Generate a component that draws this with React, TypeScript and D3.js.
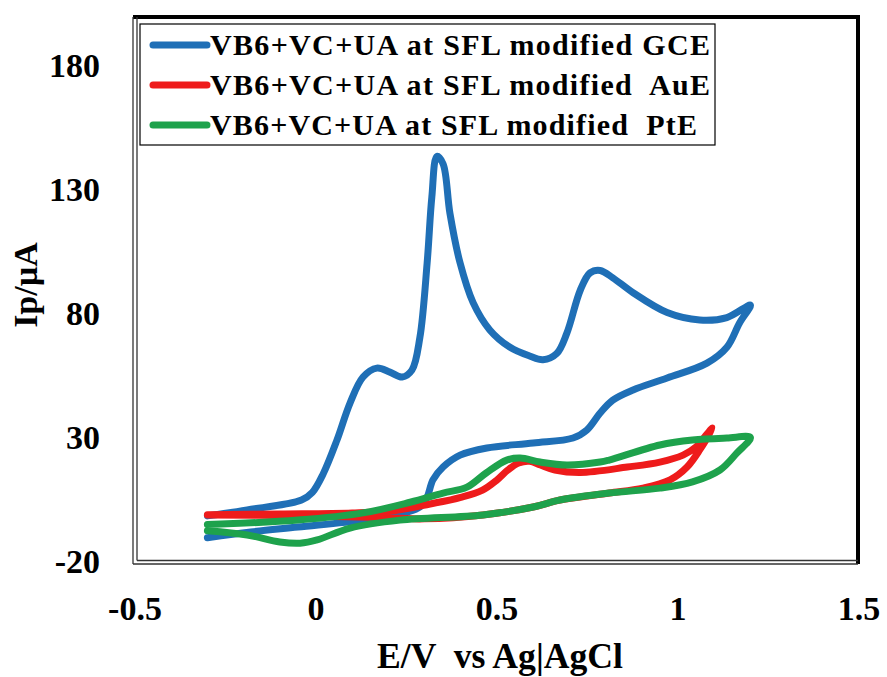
import React from "react";
import * as d3 from "d3";

// ---- Data ----
const seriesNames = [
  "VB6+VC+UA at SFL modified GCE",
  "VB6+VC+UA at SFL modified  AuE",
  "VB6+VC+UA at SFL modified  PtE",
];
const seriesColors = ["#1f6fb6", "#ee1b1b", "#1ea24c"];

// GCE: forward scan then reverse scan
const gceE = [
  -0.30, -0.19, -0.04, -0.01, 0.02, 0.058, 0.094, 0.13, 0.168, 0.204, 0.238, 0.265, 0.287, 0.307, 0.32, 0.334,
  0.351, 0.37, 0.398, 0.434, 0.48, 0.536, 0.59, 0.627, 0.665, 0.693, 0.73, 0.757, 0.785, 0.82, 0.876, 0.97,
  1.06, 1.135, 1.2,
  1.17, 1.135, 1.08, 0.97, 0.876, 0.82, 0.785, 0.748, 0.71, 0.6, 0.472, 0.398, 0.351, 0.323, 0.307, 0.287,
  0.25, 0.13, -0.05, -0.18, -0.30,
];
const gceI = [
  -1, 1.4, 5.4, 8.5, 16, 29.6, 44.5, 55, 58.6, 57, 55, 57.8, 71, 101, 127.6, 144,
  141, 121, 101, 85, 74, 67, 63.5, 62, 64.5, 72.7, 90, 97, 98, 95, 89, 81,
  78, 79, 84,
  76.8, 67, 60.6, 54.6, 49.8, 45.7, 40.5, 33.6, 30.4, 28.4, 26.4, 23.5, 18.7, 13.5, 6.6, 2.6,
  0.5, -2.7, -5.5, -7.5, -9.8,
];

// AuE
const aueE = [
  -0.30, -0.1, 0.1, 0.22, 0.315, 0.4, 0.46, 0.5, 0.53, 0.56, 0.59, 0.62, 0.66, 0.73, 0.86, 0.95, 1.014, 1.05,
  1.08, 1.095,
  1.06, 1.025, 0.978, 0.903, 0.81, 0.674, 0.6, 0.461, 0.3, 0.15, -0.05, -0.30,
];
const aueI = [
  -0.5, -0.2, 0.2, 1.2, 3.8, 6.5, 9.4, 13.5, 17.5, 20.3, 21, 19.5, 17.5, 16.5, 18.7, 20.7, 23.5, 26.8,
  32, 34.4,
  25.6, 18.7, 13.5, 10.2, 8.2, 5.4, 2.6, -0.6, -2.2, -1.6, -0.9, -0.6,
];

// PtE
const pteE = [
  -0.30, -0.05, 0.13, 0.26, 0.351, 0.417, 0.47, 0.527, 0.564, 0.619, 0.693, 0.785, 0.81, 0.95, 1.04, 1.135, 1.2,
  1.163, 1.116, 1.04, 0.95, 0.81, 0.674, 0.6, 0.461, 0.232, 0.094, 0.003, -0.044, -0.1, -0.19, -0.30,
];
const pteI = [
  -4.5, -2.7, 0.2, 4.5, 8.2, 10.6, 16.3, 21.5, 22.3, 20.7, 19.5, 20.7, 21.5, 27.6, 29.6, 30.4, 30.6,
  24.4, 17.5, 12.7, 10.2, 8.2, 5.4, 2.6, -0.6, -2.7, -5.9, -10.7, -12, -11.5, -8.7, -7,
];

const xTicks = [-0.5, 0, 0.5, 1, 1.5];
const yTicks = [-20, 30, 80, 130, 180];
const xTitle = "E/V  vs Ag|AgCl";
const yTitle = "Ip/\u00b5A";

const W = 887;
const H = 677;
const FONT = "'Liberation Serif', 'Times New Roman', serif";

export default function App() {
  const x = d3.scaleLinear().domain([-0.5, 1.5]).range([135, 859]);
  const y = d3.scaleLinear().domain([-20, 200]).range([563, 17.5]);

  const line = d3
    .line<[number, number]>()
    .x((d) => x(d[0]))
    .y((d) => y(d[1]))
    .curve(d3.curveCatmullRom.alpha(0.5));

  const series = [
    { E: gceE, I: gceI },
    { E: aueE, I: aueI },
    { E: pteE, I: pteI },
  ];

  const left = 135,
    right = 858,
    top = 17,
    bottom = 562;

  const legendRows = [45, 85, 125];
  const legendLens = [500, 500, 487];

  return (
    <svg
      width={W}
      height={H}
      viewBox={`0 0 ${W} ${H}`}
      style={{ position: "absolute", left: 0, top: 0, background: "#fff" }}
    >
      <rect x={0} y={0} width={W} height={H} fill="#fff" />

      {/* curves */}
      {series.map((s, i) => (
        <path
          key={i}
          d={line(s.E.map((e, k) => [e, s.I[k]] as [number, number])) || ""}
          fill="none"
          stroke={seriesColors[i]}
          strokeWidth={7}
          strokeLinecap="round"
          strokeLinejoin="round"
        />
      ))}

      {/* frame */}
      <line x1={left - 2} y1={top} x2={right + 2} y2={top} stroke="#000" strokeWidth={4} />
      <line x1={right} y1={top - 2} x2={right} y2={bottom + 2} stroke="#000" strokeWidth={4} />
      <line x1={left - 2} y1={top} x2={left - 2} y2={bottom + 2} stroke="#333" strokeWidth={1.3} />
      <line x1={left + 2} y1={top} x2={left + 2} y2={bottom - 1.5} stroke="#333" strokeWidth={1.3} />
      <line x1={left - 2} y1={bottom + 2} x2={right} y2={bottom + 2} stroke="#333" strokeWidth={1.3} />
      <line x1={left + 2} y1={bottom - 1.5} x2={right} y2={bottom - 1.5} stroke="#333" strokeWidth={1.3} />

      {/* legend */}
      <rect x={140} y={24} width={575} height={121} fill="#fff" stroke="#000" strokeWidth={1.2} />
      {seriesNames.map((name, i) => (
        <g key={name}>
          <line
            x1={153}
            x2={207}
            y1={legendRows[i]}
            y2={legendRows[i]}
            stroke={seriesColors[i]}
            strokeWidth={7}
            strokeLinecap="round"
          />
          <text
            x={210}
            y={legendRows[i] + 10}
            fontFamily={FONT}
            fontWeight="bold"
            fontSize={30}
            textLength={legendLens[i]}
            lengthAdjust="spacing"
            style={{ whiteSpace: "pre" }}
            fill="#000"
          >
            {name}
          </text>
        </g>
      ))}

      {/* y tick labels */}
      {yTicks.map((t) => (
        <text
          key={t}
          x={100}
          y={y(t) + 10}
          textAnchor="end"
          fontFamily={FONT}
          fontWeight="bold"
          fontSize={34}
          fill="#000"
        >
          {t}
        </text>
      ))}

      {/* x tick labels */}
      {xTicks.map((t) => (
        <text
          key={t}
          x={x(t)}
          y={620}
          textAnchor="middle"
          fontFamily={FONT}
          fontWeight="bold"
          fontSize={34}
          fill="#000"
        >
          {t}
        </text>
      ))}

      {/* axis titles */}
      <text
        x={500}
        y={668}
        textAnchor="middle"
        fontFamily={FONT}
        fontWeight="bold"
        fontSize={35}
        textLength={246}
        lengthAdjust="spacingAndGlyphs"
        style={{ whiteSpace: "pre" }}
        fill="#000"
      >
        {xTitle}
      </text>
      <text
        transform={`translate(37,285) rotate(-90)`}
        textAnchor="middle"
        fontFamily={FONT}
        fontWeight="bold"
        fontSize={34}
        fill="#000"
      >
        {yTitle}
      </text>
    </svg>
  );
}
